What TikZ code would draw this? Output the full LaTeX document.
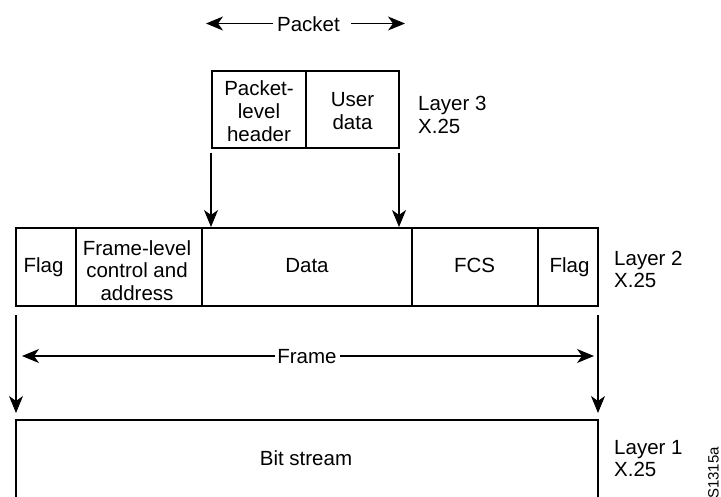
\documentclass[tikz,border=0pt]{standalone}
\usepackage{fontspec}
\setmainfont{Liberation Sans}
\usetikzlibrary{arrows.meta}
\newcommand{\tx}[1]{\fontsize{20.5}{22.8}\selectfont\begin{tabular}[t]{@{}c@{}}#1\end{tabular}}
\newcommand{\tl}[1]{\fontsize{20.5}{22.8}\selectfont\begin{tabular}[t]{@{}l@{}}#1\end{tabular}}
\begin{document}
\begin{tikzpicture}[x=1pt,y=-1pt,
  txt/.style={inner sep=0pt, anchor=base},
  lbl/.style={anchor=base west, inner sep=0pt},
  cell/.style={draw, line width=1.1pt},
  arr/.style={line width=1.1pt, -{Stealth[length=17pt,width=14pt,inset=5pt]}},
  ln/.style={line width=1.1pt}]
\useasboundingbox (0,0) rectangle (721,496);

% Packet span
\node[txt] (pk) at (308.5,31.5) {\tx{Packet}};
\coordinate (pkL) at (206,23.5);
\coordinate (pkR) at (405,23.5);
\draw[arr] ([xshift=-4pt]pk.west |- pkL) -- (pkL);
\draw[arr] ([xshift=11pt]pk.east |- pkR) -- (pkR);

% Layer 3 packet
\draw[cell] (212,71) rectangle (306,148);
\draw[cell] (306,71) rectangle (399,148);
\node[txt] (plh) at (259,95.5) {\tx{Packet-\\level\\header}};
\node[txt] (ud) at (352.5,106.5) {\tx{User\\data}};
\node[lbl] (l3) at (418,110.5) {\tl{Layer 3\\X.25}};

% arrows packet -> frame
\coordinate (a1s) at (211,153);
\coordinate (a1e) at (211,227);
\coordinate (a2s) at (399,153);
\coordinate (a2e) at (399,227);
\draw[arr] (a1s) -- (a1e);
\draw[arr] (a2s) -- (a2e);

% Frame
\draw[cell] (16,228) rectangle (598,306);
\draw[ln] (76,228) -- (76,306);
\draw[ln] (202,228) -- (202,306);
\draw[ln] (412,228) -- (412,306);
\draw[ln] (538,228) -- (538,306);
\node[txt] (f1) at (43.5,272) {\tx{Flag}};
\node[txt] (fc) at (137,255) {\tx{Frame-level\\control and\\address}};
\node[txt] (fd) at (307,272) {\tx{Data}};
\node[txt] (fcs) at (474.5,272) {\tx{FCS}};
\node[txt] (f2) at (569.5,272) {\tx{Flag}};
\node[lbl] (l2) at (614,265) {\tl{Layer 2\\X.25}};

% Frame span
\node[txt] (fr) at (307,363.5) {\tx{Frame}};
\coordinate (frL) at (22,356);
\coordinate (frR) at (594,356);
\draw[arr] ([xshift=-2pt]fr.west |- frL) -- (frL);
\draw[arr] ([xshift=3pt]fr.east |- frR) -- (frR);

% arrows frame -> bit stream
\coordinate (b1s) at (16,315);
\coordinate (b1e) at (16,413);
\coordinate (b2s) at (598,315);
\coordinate (b2e) at (598,413);
\draw[arr] (b1s) -- (b1e);
\draw[arr] (b2s) -- (b2e);

% Bit stream
\draw[ln] (16,500) -- (16,420) -- (598,420) -- (598,500);
\node[txt] (bs) at (306,465) {\tx{Bit stream}};
\node[lbl] (l1) at (614,454) {\tl{Layer 1\\X.25}};

\node[font=\fontsize{15}{15}\selectfont, inner sep=0pt, rotate=90, anchor=south west] (id) at (719,499) {S1315a};
\end{tikzpicture}
\end{document}
